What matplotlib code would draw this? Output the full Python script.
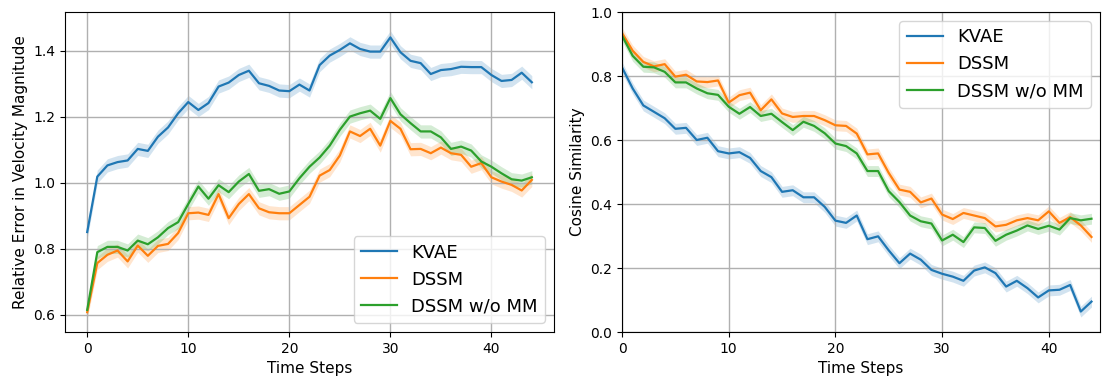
import numpy as np
import matplotlib
matplotlib.use("Agg")
import matplotlib.pyplot as plt

steps = np.arange(45)
labels = ["KVAE", "DSSM", "DSSM w/o MM"]
colors = ["#1f77b4", "#ff7f0e", "#2ca02c"]

# relative error in velocity magnitude
err_kvae = [0.851, 1.019, 1.053, 1.063, 1.068, 1.103, 1.097, 1.140, 1.168, 1.211,
            1.245, 1.221, 1.242, 1.292, 1.304, 1.327, 1.340, 1.302, 1.294, 1.280,
            1.278, 1.298, 1.280, 1.357, 1.386, 1.403, 1.423, 1.406, 1.398, 1.398,
            1.441, 1.396, 1.370, 1.363, 1.330, 1.342, 1.345, 1.352, 1.351, 1.351,
            1.327, 1.309, 1.312, 1.334, 1.305]
err_dssm = [0.608, 0.757, 0.782, 0.795, 0.762, 0.810, 0.779, 0.809, 0.815, 0.848,
            0.908, 0.910, 0.903, 0.966, 0.893, 0.936, 0.966, 0.923, 0.911, 0.908,
            0.908, 0.933, 0.958, 1.022, 1.039, 1.083, 1.156, 1.142, 1.164, 1.113,
            1.188, 1.164, 1.102, 1.103, 1.090, 1.107, 1.090, 1.085, 1.049, 1.060,
            1.017, 1.004, 0.994, 0.977, 1.009]
err_nomm = [0.615, 0.790, 0.806, 0.806, 0.795, 0.825, 0.814, 0.835, 0.863, 0.881,
            0.936, 0.989, 0.952, 0.993, 0.972, 1.004, 1.027, 0.976, 0.981, 0.967,
            0.974, 1.014, 1.049, 1.077, 1.113, 1.161, 1.201, 1.211, 1.219, 1.194,
            1.257, 1.208, 1.181, 1.156, 1.156, 1.138, 1.103, 1.110, 1.098, 1.065,
            1.049, 1.029, 1.011, 1.007, 1.017]

# cosine similarity
cos_kvae = [0.827, 0.761, 0.708, 0.688, 0.668, 0.635, 0.638, 0.600, 0.607, 0.565,
            0.558, 0.562, 0.544, 0.503, 0.484, 0.438, 0.443, 0.421, 0.421, 0.391,
            0.348, 0.341, 0.364, 0.290, 0.299, 0.255, 0.215, 0.245, 0.226, 0.194,
            0.182, 0.173, 0.160, 0.192, 0.202, 0.184, 0.142, 0.160, 0.137, 0.108,
            0.130, 0.132, 0.147, 0.064, 0.095]
cos_dssm = [0.934, 0.879, 0.844, 0.830, 0.837, 0.798, 0.804, 0.783, 0.781, 0.786,
            0.717, 0.740, 0.748, 0.693, 0.727, 0.683, 0.672, 0.675, 0.675, 0.662,
            0.646, 0.644, 0.620, 0.555, 0.558, 0.497, 0.445, 0.438, 0.405, 0.417,
            0.367, 0.353, 0.372, 0.364, 0.356, 0.330, 0.335, 0.349, 0.356, 0.349,
            0.377, 0.341, 0.359, 0.333, 0.297]
cos_nomm = [0.926, 0.863, 0.829, 0.827, 0.813, 0.780, 0.780, 0.761, 0.746, 0.741,
            0.704, 0.682, 0.703, 0.675, 0.682, 0.656, 0.631, 0.657, 0.644, 0.621,
            0.589, 0.581, 0.558, 0.503, 0.503, 0.440, 0.406, 0.364, 0.346, 0.339,
            0.286, 0.304, 0.281, 0.327, 0.325, 0.285, 0.304, 0.317, 0.333, 0.322,
            0.332, 0.320, 0.356, 0.349, 0.354]

# half width of the shaded band
band_err = 0.02
band_cos = 0.017


def draw(ax, series, band):
    for y, c, lab in zip(series, colors, labels):
        y = np.array(y)
        ax.fill_between(steps, y - band, y + band, color=c, alpha=0.2, linewidth=0)
        ax.plot(steps, y, color=c, linewidth=1.6, label=lab)
    ax.grid(True, color="#b0b0b0", linewidth=1.0)
    ax.tick_params(labelsize=10)
    ax.set_xlabel("Time Steps", fontsize=11)


fig = plt.figure(figsize=(11.05, 3.81), dpi=100)
ax1 = fig.add_axes([0.0588, 0.1286, 0.4426, 0.8399])
ax2 = fig.add_axes([0.5629, 0.1286, 0.4326, 0.8399])

draw(ax1, [err_kvae, err_dssm, err_nomm], band_err)
ax1.set_xlim(-2.2, 46.2)
ax1.set_ylim(0.548, 1.518)
ax1.set_xticks([0, 10, 20, 30, 40])
ax1.set_yticks([0.6, 0.8, 1.0, 1.2, 1.4])
ax1.set_ylabel("Relative Error in Velocity Magnitude", fontsize=11)
ax1.legend(loc="lower right", fontsize=13, handlelength=2.0)

draw(ax2, [cos_kvae, cos_dssm, cos_nomm], band_cos)
ax2.set_xlim(0, 44.8)
ax2.set_ylim(0, 1.0)
ax2.set_xticks([0, 10, 20, 30, 40])
ax2.set_ylabel("Cosine Similarity", fontsize=11)
ax2.legend(loc="upper right", fontsize=13, handlelength=2.0)

fig.savefig("out.png", dpi=100)
